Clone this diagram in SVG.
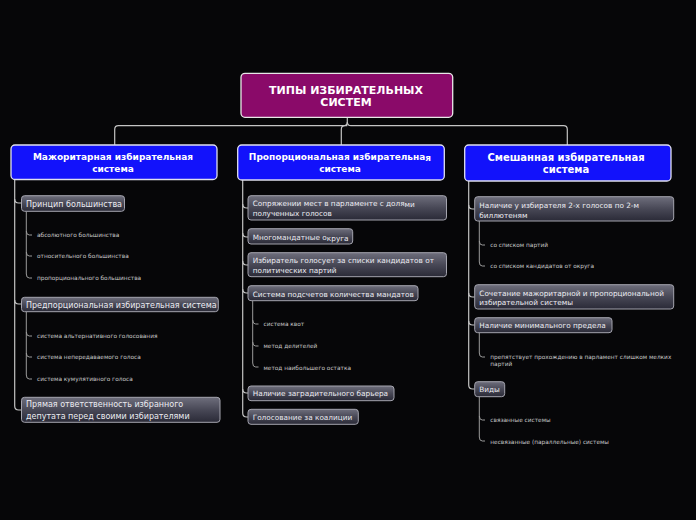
<svg xmlns="http://www.w3.org/2000/svg" width="696" height="520" viewBox="0 0 696 520">
<defs>
<linearGradient id="g" x1="0" y1="0" x2="0" y2="1">
<stop offset="0" stop-color="#6e6e7c"/>
<stop offset="0.5" stop-color="#484856"/>
<stop offset="1" stop-color="#2a2a37"/>
</linearGradient>
<style>
.root{fill:#8a0a69;stroke:#e8e8e8;stroke-width:1.3}
.main{fill:#1212fb;stroke:#e0e0ee;stroke-width:1.3}
.sub{fill:url(#g);stroke:#a4a4ae;stroke-width:1}
.t{font-family:"DejaVu Sans",Verdana,sans-serif}
.tr{font-size:11px;font-weight:bold;fill:#fff;text-anchor:middle}
.tm{font-size:9px;font-weight:bold;fill:#fff;text-anchor:middle}
.tm2{font-size:10px;font-weight:bold;fill:#fff;text-anchor:middle}
.ts{font-size:8px;fill:#ececf2}
.ts2{font-size:7.3px;fill:#ececf2}
.tl{font-size:5.8px;fill:#c8c8c8}
.c{fill:none;stroke:#c4c4c4;stroke-width:1.2}
.c2{fill:none;stroke:#9a9a9a;stroke-width:1}
</style>
</defs>
<rect width="696" height="520" fill="#060608"/>
<g id="connectors">
<path class="c" d="M347.3 117.3V122Q347.3 125.7 343.5 125.7H118.5Q114.7 125.7 114.7 129.5V145"/>
<path class="c" d="M347.3 122Q347.3 125.7 351 125.7H563.5Q567.3 125.7 567.3 129.5V145"/>
<path class="c" d="M347.3 125.7H345Q341.3 125.7 341.3 129.5V145"/>
<path class="c" d="M14.7 179V199Q14.7 203 18.7 203H21.5"/>
<path class="c" d="M14.7 199V300Q14.7 304 18.7 304H21.5"/>
<path class="c" d="M14.7 300V406Q14.7 410 18.7 410H21.5"/>
<path class="c2" d="M26.3 211.5V231Q26.3 235 29.3 235H32"/>
<path class="c2" d="M26.3 231V252Q26.3 256 29.3 256H32"/>
<path class="c2" d="M26.3 252V274Q26.3 278 29.3 278H32"/>
<path class="c2" d="M26.3 312V332Q26.3 336 29.3 336H32"/>
<path class="c2" d="M26.3 332V353Q26.3 357 29.3 357H32"/>
<path class="c2" d="M26.3 353V375Q26.3 379 29.3 379H32"/>
<path class="c" d="M242.7 180V204Q242.7 208 246.7 208H248"/>
<path class="c" d="M242.7 204V233Q242.7 237 246.7 237H248"/>
<path class="c" d="M242.7 233V261Q242.7 265 246.7 265H248"/>
<path class="c" d="M242.7 261V289Q242.7 293 246.7 293H248"/>
<path class="c" d="M242.7 289V389Q242.7 393 246.7 393H248"/>
<path class="c" d="M242.7 389V413Q242.7 417 246.7 417H248"/>
<path class="c2" d="M252.7 300.7V320Q252.7 324 255.7 324H258.5"/>
<path class="c2" d="M252.7 320V342Q252.7 346 255.7 346H258.5"/>
<path class="c2" d="M252.7 342V363Q252.7 367 255.7 367H258.5"/>
<path class="c" d="M468.7 181V205Q468.7 209 472.7 209H474.7"/>
<path class="c" d="M468.7 205V293Q468.7 297 472.7 297H474.7"/>
<path class="c" d="M468.7 293V321Q468.7 325 472.7 325H474.7"/>
<path class="c" d="M468.7 321V385Q468.7 389 472.7 389H474.7"/>
<path class="c2" d="M479.3 221V241Q479.3 245 482.3 245H485"/>
<path class="c2" d="M479.3 241V262Q479.3 266 482.3 266H485"/>
<path class="c2" d="M479.3 332.7V353Q479.3 357 482.3 357H485"/>
<path class="c2" d="M479.3 396.7V416Q479.3 420 482.3 420H485"/>
<path class="c2" d="M479.3 416V437Q479.3 441 482.3 441H485"/>
</g>
<g id="root">
<rect class="root" x="241" y="73.3" width="211.7" height="44" rx="4"/>
<text class="t tr" x="346" y="93.5">ТИПЫ ИЗБИРАТЕЛЬНЫХ</text>
<text class="t tr" x="346" y="106">СИСТЕМ</text>
</g>
<g id="maj">
<rect class="main" x="11" y="145" width="206" height="34.5" rx="4"/>
<text class="t tm" x="113" y="160">Мажоритарная избирательная</text>
<text class="t tm" x="113" y="172">система</text>
</g>
<g id="prop">
<rect class="main" x="237.7" y="145" width="206.6" height="35" rx="4"/>
<text class="t tm" x="340" y="160">Пропорциональная избирательна<tspan dy="1">я</tspan></text>
<text class="t tm" x="340" y="172">система</text>
</g>
<g id="mix">
<rect class="main" x="464.7" y="145" width="206.3" height="36" rx="4"/>
<text class="t tm2" x="566" y="160.5">Смешанная избирательная</text>
<text class="t tm2" x="566" y="173">система</text>
</g>
<g id="maj1">
<rect class="sub" x="21.5" y="195.7" width="103" height="15.6" rx="3"/>
<text class="t ts" x="26" y="206.5">Принцип большинства</text>
</g>
<g id="maj1a"><text class="t tl" x="37" y="237">абсолютного большинства</text></g>
<g id="maj1b"><text class="t tl" x="37" y="258">относительного большинства</text></g>
<g id="maj1c"><text class="t tl" x="37" y="280">пропорционального большинства</text></g>
<g id="maj2">
<rect class="sub" x="21.5" y="297.3" width="196.8" height="14.4" rx="3"/>
<text class="t ts" x="26" y="307.8">Предпорциональная избирательная система</text>
</g>
<g id="maj2a"><text class="t tl" x="37" y="338">система альтернативного голосования</text></g>
<g id="maj2b"><text class="t tl" x="37" y="359">система непередаваемого голоса</text></g>
<g id="maj2c"><text class="t tl" x="37" y="381">система кумулятивного голоса</text></g>
<g id="maj3">
<rect class="sub" x="21.5" y="397.3" width="198.5" height="25" rx="3"/>
<text class="t ts" x="26" y="407.3">Прямая ответственность избранного</text>
<text class="t ts" x="26" y="418.8">депутата перед своими избирателями</text>
</g>
<g id="prop1">
<rect class="sub" x="248" y="195.7" width="198.5" height="24.3" rx="3"/>
<text class="t ts2" x="252.7" y="206">Сопряжении мест в парламенте с доля<tspan dy="1">ми</tspan></text>
<text class="t ts2" x="252.7" y="216.3">полученных голосов</text>
</g>
<g id="prop2">
<rect class="sub" x="248" y="228.7" width="104.7" height="15.3" rx="3"/>
<text class="t ts2" x="252.7" y="239.5">Многомандатные о<tspan dy="1">круга</tspan></text>
</g>
<g id="prop3">
<rect class="sub" x="248" y="252.7" width="198.5" height="24" rx="3"/>
<text class="t ts2" x="252.7" y="262.8">Избиратель голосует за списки кандидатов от</text>
<text class="t ts2" x="252.7" y="273">политических партий</text>
</g>
<g id="prop4">
<rect class="sub" x="248" y="285.7" width="170" height="15" rx="3"/>
<text class="t ts2" x="252.7" y="296.5">Система подсчетов количества мандатов</text>
</g>
<g id="prop4a"><text class="t tl" x="263.5" y="326">система квот</text></g>
<g id="prop4b"><text class="t tl" x="263.5" y="348">метод делителей</text></g>
<g id="prop4c"><text class="t tl" x="263.5" y="369.5">метод наибольшего остатка</text></g>
<g id="prop5">
<rect class="sub" x="248" y="386" width="146" height="14.7" rx="3"/>
<text class="t ts2" x="252.7" y="396.3">Наличие заградительного барьера</text>
</g>
<g id="prop6">
<rect class="sub" x="248" y="409.3" width="110.3" height="15" rx="3"/>
<text class="t ts2" x="252.7" y="419.8">Голосование за коалиции</text>
</g>
<g id="mix1">
<rect class="sub" x="474.7" y="196.7" width="199" height="24.3" rx="3"/>
<text class="t ts2" x="479.3" y="207.8">Наличие у избирателя 2-х голосов по 2-м</text>
<text class="t ts2" x="479.3" y="217.5">биллютеням</text>
</g>
<g id="mix1a"><text class="t tl" x="490.3" y="247">со списком партий</text></g>
<g id="mix1b"><text class="t tl" x="490.3" y="268">со списком кандидатов от округа</text></g>
<g id="mix2">
<rect class="sub" x="474.7" y="284.7" width="199" height="24.3" rx="3"/>
<text class="t ts2" x="479.3" y="295.8">Сочетание мажоритарной и пропорциональной</text>
<text class="t ts2" x="479.3" y="304.5">избирательной системы</text>
</g>
<g id="mix3">
<rect class="sub" x="474.7" y="317.7" width="137.3" height="15" rx="3"/>
<text class="t ts2" x="479.3" y="328.2">Наличие минимального предела</text>
</g>
<g id="mix3a">
<text class="t tl" x="490.3" y="358.5">препятствует прохождению в парламент слишком мелких</text>
<text class="t tl" x="490.3" y="365.5">партий</text>
</g>
<g id="mix4">
<rect class="sub" x="474.7" y="381.7" width="30" height="15" rx="3"/>
<text class="t ts2" x="479.3" y="392.3">Виды</text>
</g>
<g id="mix4a"><text class="t tl" x="490.3" y="422">связанные системы</text></g>
<g id="mix4b"><text class="t tl" x="490.3" y="444">несвязанные (параллельные) системы</text></g>
</svg>
